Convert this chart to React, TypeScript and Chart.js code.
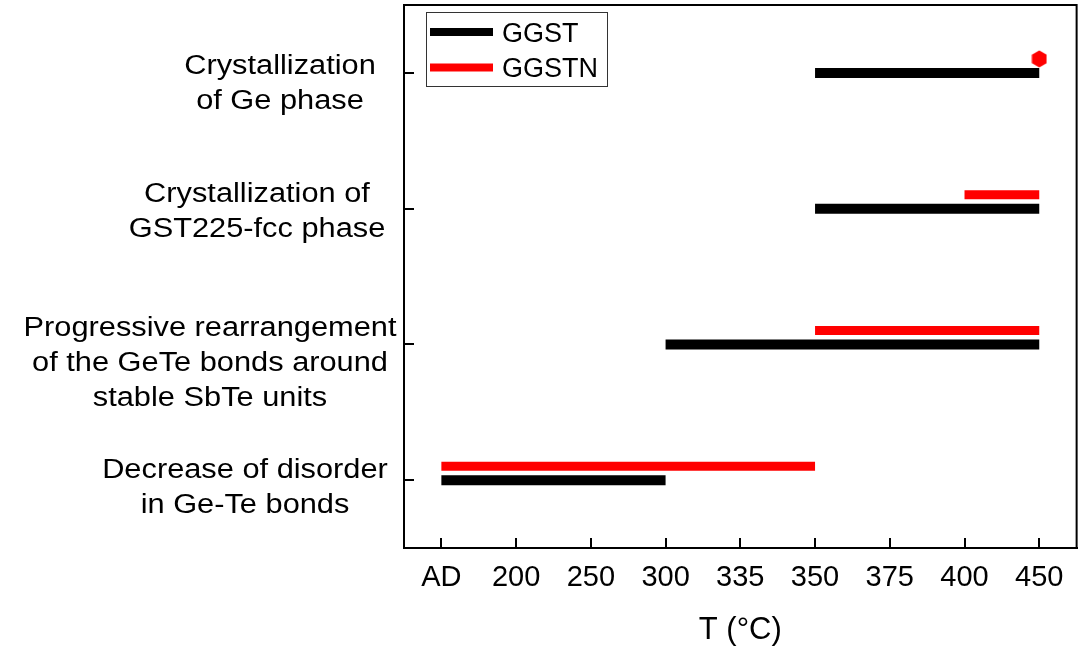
import React, { useEffect, useRef } from "react";
import { Chart, registerables } from "chart.js";

Chart.register(...registerables);

// ---- data ----
const rowLabels: string[][] = [
  ["Crystallization", "of Ge phase"],
  ["Crystallization of", "GST225-fcc phase"],
  ["Progressive rearrangement", "of the GeTe bonds around", "stable SbTe units"],
  ["Decrease of disorder", "in Ge-Te bonds"],
];
const tempLabels: string[] = ["AD", "200", "250", "300", "335", "350", "375", "400", "450"];
const seriesNames: string[] = ["GGST", "GGSTN"];
const ggstRanges: [string, string][] = [
  ["350", "450"],
  ["350", "450"],
  ["300", "450"],
  ["AD", "300"],
];
const ggstnRanges: [string, string][] = [
  ["450", "450"],
  ["400", "450"],
  ["350", "450"],
  ["AD", "350"],
];
const axisTitle = "T (°C)";

// ---- styles ----
const FONT = "'Liberation Sans', Arial, Helvetica, sans-serif";
const seriesColors = ["#000000", "#ff0000"];
const seriesWidths = [10, 9];
const seriesShift = [0, -0.103];
const rowLabelStyle = [
  { cx: 280, dy: 8.5 },
  { cx: 257, dy: 1.5 },
  { cx: 210, dy: 17 },
  { cx: 245, dy: 5.5 },
];
const labelFontSize = 27;
const labelScaleX = 1.14;
const labelLineGap = 35;

function makeHexagon(color: string): HTMLCanvasElement {
  const c = document.createElement("canvas");
  c.width = 16;
  c.height = 18;
  const g = c.getContext("2d")!;
  const r = 8.5;
  g.beginPath();
  for (let k = 0; k < 6; k++) {
    const a = (-90 + k * 60) * (Math.PI / 180);
    const px = 8 + r * Math.cos(a);
    const py = 9 + r * Math.sin(a);
    if (k === 0) g.moveTo(px, py);
    else g.lineTo(px, py);
  }
  g.closePath();
  g.fillStyle = color;
  g.fill();
  return c;
}

const overlayPlugin = {
  id: "overlay",
  afterDraw(chart: any) {
    const { ctx, chartArea: a } = chart;
    ctx.save();
    // frame
    ctx.strokeStyle = "#000";
    ctx.lineWidth = 2;
    ctx.strokeRect(a.left, a.top, a.right - a.left, a.bottom - a.top);

    // category labels
    const ys = chart.scales.y;
    ctx.fillStyle = "#000";
    ctx.textAlign = "center";
    ctx.textBaseline = "alphabetic";
    ctx.font = `${labelFontSize}px ${FONT}`;
    rowLabels.forEach((lines, i) => {
      const st = rowLabelStyle[i];
      const py = ys.getPixelForValue(i) + st.dy;
      const n = lines.length;
      lines.forEach((line, j) => {
        const capCenter = py + (j - (n - 1) / 2) * labelLineGap;
        ctx.save();
        ctx.translate(st.cx, capCenter + 0.358 * labelFontSize);
        ctx.scale(labelScaleX, 1);
        ctx.fillText(line, 0, 0);
        ctx.restore();
      });
    });

    // legend
    const lx = a.left + 22;
    const ly = a.top + 7;
    ctx.strokeStyle = "#333";
    ctx.lineWidth = 1;
    ctx.strokeRect(lx + 0.5, ly + 0.5, 181, 74);
    ctx.font = `27px ${FONT}`;
    ctx.textAlign = "left";
    seriesNames.forEach((name, k) => {
      const cy = ly + 20 + k * 35.5;
      ctx.strokeStyle = seriesColors[k];
      ctx.lineWidth = 8;
      ctx.lineCap = "butt";
      ctx.beginPath();
      ctx.moveTo(lx + 4, cy);
      ctx.lineTo(lx + 67, cy);
      ctx.stroke();
      ctx.fillStyle = "#000";
      ctx.fillText(name, lx + 76, cy + 0.358 * 27);
    });
    ctx.restore();
  },
};

export default function App() {
  const ref = useRef<HTMLCanvasElement>(null);
  useEffect(() => {
    if (!ref.current) return;
    const hex = makeHexagon(seriesColors[1]);
    const datasets: any[] = [];
    [ggstRanges, ggstnRanges].forEach((ranges, s) => {
      ranges.forEach((r, row) => {
        const x0 = tempLabels.indexOf(r[0]);
        const x1 = tempLabels.indexOf(r[1]);
        const yv = row + seriesShift[s];
        const isPoint = x0 === x1;
        datasets.push({
          label: seriesNames[s],
          data: isPoint ? [{ x: x0, y: yv }] : [{ x: x0, y: yv }, { x: x1, y: yv }],
          showLine: !isPoint,
          borderColor: seriesColors[s],
          backgroundColor: seriesColors[s],
          borderWidth: isPoint ? 0 : seriesWidths[s],
          borderCapStyle: "butt",
          pointRadius: isPoint ? 8 : 0,
          pointHoverRadius: isPoint ? 8 : 0,
          pointStyle: isPoint ? hex : "circle",
          clip: false,
        });
      });
    });

    const chart = new Chart(ref.current, {
      type: "scatter",
      data: { datasets },
      options: {
        responsive: false,
        animation: false,
        devicePixelRatio: 1,
        layout: { autoPadding: false, padding: { top: 5, right: 10, left: 0, bottom: 0 } },
        plugins: { legend: { display: false }, tooltip: { enabled: false } },
        scales: {
          x: {
            type: "linear",
            min: -0.5,
            max: 8.5,
            afterBuildTicks: (s: any) => {
              s.ticks = tempLabels.map((_, i) => ({ value: i }));
            },
            afterFit: (s: any) => {
              s.height = 101;
            },
            ticks: {
              callback: (v: any) => tempLabels[v] ?? "",
              font: { size: 29, family: FONT },
              color: "#000",
              padding: 23,
              autoSkip: false,
              maxRotation: 0,
            },
            grid: { drawOnChartArea: false, tickLength: -10, lineWidth: 2, color: "#000" },
            border: { width: 2, color: "#000" },
            title: {
              display: true,
              text: axisTitle,
              font: { size: 31, family: FONT },
              color: "#000",
              padding: { top: 0, bottom: 0 },
            },
          },
          y: {
            type: "linear",
            reverse: true,
            min: -0.5,
            max: 3.5,
            afterBuildTicks: (s: any) => {
              s.ticks = rowLabels.map((_, i) => ({ value: i }));
            },
            afterFit: (s: any) => {
              s.width = 404;
            },
            ticks: { display: false },
            grid: { drawOnChartArea: false, tickLength: -10, lineWidth: 2, color: "#000" },
            border: { width: 2, color: "#000" },
          },
        },
      } as any,
      plugins: [overlayPlugin],
    });
    return () => chart.destroy();
  }, []);

  return (
    <div style={{ position: "fixed", left: 0, top: 0, width: 1087, height: 649, background: "#fff" }}>
      <canvas ref={ref} width={1087} height={649} />
    </div>
  );
}
